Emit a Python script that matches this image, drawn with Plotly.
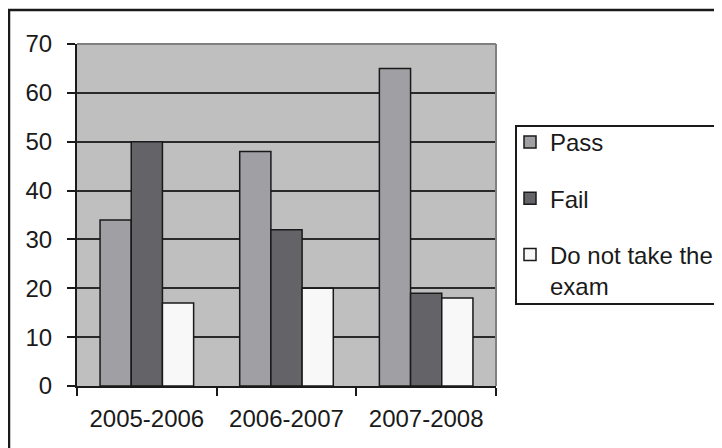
import plotly.graph_objects as go

categories = ["2005-2006", "2006-2007", "2007-2008"]
pass_vals = [34, 48, 65]
fail_vals = [50, 32, 19]
absent_vals = [17, 20, 18]
series_names = ["Pass", "Fail", "Do not take the<br>exam"]
colors = ["#a0a0a4", "#646468", "#f8f8f8"]

W, H = 722, 448
OFF = 8  # page body margin shift
L, R, T, B = 77 - OFF, 496 - OFF, 44 - OFF, 386 - OFF

def px(x):
    return (x - OFF - L) / (R - L)

def py(y):
    return (B - (y - OFF)) / (B - T)

fig = go.Figure()
for i, (name, vals) in enumerate(zip(series_names, [pass_vals, fail_vals, absent_vals])):
    fig.add_trace(go.Bar(
        x=categories, y=vals, name=name,
        marker=dict(color=colors[i], line=dict(color="#1a1a1a", width=1.5)),
        legendgroup=str(i),
    ))

font = "Liberation Sans, Arial, sans-serif"
fig.update_layout(
    width=W, height=H,
    margin=dict(l=L, r=W - R, t=T, b=H - B, pad=0),
    paper_bgcolor="white", plot_bgcolor="#bfbfbf",
    barmode="group", bargap=0.33, bargroupgap=0,
    font=dict(family=font, size=24, color="#1a1a1a"),
    showlegend=True,
    legend=dict(
        x=px(510), y=py(120), xanchor="left", yanchor="top",
        bgcolor="rgba(0,0,0,0)", borderwidth=0,
        font=dict(family=font, size=24, color="#1a1a1a"),
        traceorder="grouped", tracegroupgap=22, valign="top",
    ),
    xaxis=dict(
        range=[-0.5, 2.5], showgrid=False, ticks="outside", tickson="boundaries",
        ticklen=8, tickwidth=2, tickcolor="#1a1a1a",
        showline=True, linecolor="#1a1a1a", linewidth=2,
        tickfont=dict(size=24), ticklabelstandoff=10,
    ),
    yaxis=dict(
        range=[0, 70], dtick=10, showgrid=True, gridcolor="#2a2a2a", gridwidth=2,
        ticks="outside", ticklen=8, tickwidth=2, tickcolor="#1a1a1a",
        showline=True, linecolor="#1a1a1a", linewidth=2,
        tickfont=dict(size=24), ticklabelstandoff=10, zeroline=False,
    ),
    shapes=[
        dict(type="line", xref="paper", yref="paper", x0=0, x1=1, y0=1, y1=1,
             line=dict(color="#808080", width=2)),
        dict(type="line", xref="paper", yref="paper", x0=1, x1=1, y0=0, y1=1,
             line=dict(color="#808080", width=2)),
        dict(type="rect", xref="paper", yref="paper", x0=px(9), x1=px(760), y0=py(10), y1=py(480),
             line=dict(color="#1a1a1a", width=2.5), layer="above"),
        dict(type="rect", xref="paper", yref="paper", x0=px(516), x1=px(760), y0=py(126), y1=py(304),
             line=dict(color="#1a1a1a", width=2), layer="above"),
    ],
)

fig.write_html("out.html")
